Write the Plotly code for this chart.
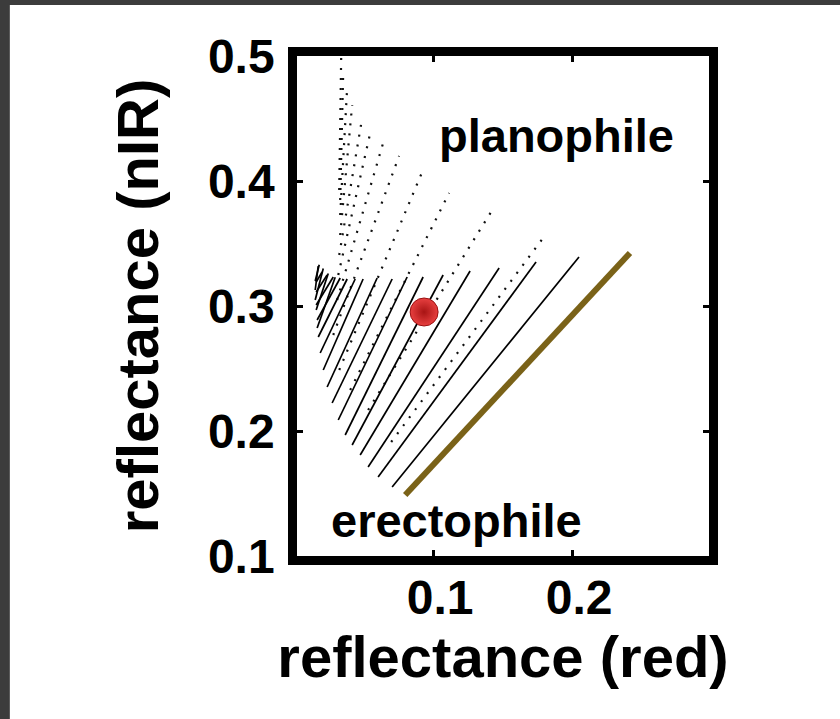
import plotly.graph_objects as go

# Canopy reflectance simulations in red / near-infrared space.
# Densely sampled iso-LAI lines (erectophile leaves): start and end points.
dense_red_start = [0.0705, 0.0604, 0.0532, 0.0475, 0.0417, 0.0367, 0.0317, 0.0273,
                   0.0237, 0.0209, 0.0187, 0.0173, 0.0165, 0.0158, 0.0158, 0.0158,
                   0.0151, 0.0151, 0.0158, 0.0165, 0.0151]
dense_nir_start = [0.1552, 0.1632, 0.1712, 0.1808, 0.1888, 0.1968, 0.2088, 0.2224,
                   0.2352, 0.2488, 0.2624, 0.2752, 0.2888, 0.3008, 0.3112, 0.3192,
                   0.3128, 0.3048, 0.2968, 0.2824, 0.3200]
dense_red_end = [0.2050, 0.1741, 0.1475, 0.1266, 0.1072, 0.0928, 0.0813, 0.0705,
                 0.0597, 0.0496, 0.0439, 0.0381, 0.0331, 0.0281, 0.0237, 0.0201,
                 0.0173, 0.0209, 0.0245, 0.0295, 0.0180]
dense_nir_end = [0.3392, 0.3352, 0.3304, 0.3280, 0.3248, 0.3232, 0.3232, 0.3216,
                 0.3224, 0.3216, 0.3216, 0.3216, 0.3224, 0.3232, 0.3248, 0.3272,
                 0.3320, 0.3300, 0.3260, 0.3230, 0.3330]

# Sparsely sampled iso-LAI lines (planophile leaves): upper and lower points.
sparse_red_top = [0.1813, 0.1417, 0.1115, 0.0921, 0.0755, 0.0640, 0.0547, 0.0489,
                  0.0417, 0.0381, 0.0353, 0.0338]
sparse_nir_top = [0.3576, 0.3752, 0.3904, 0.4072, 0.4200, 0.4304, 0.4384, 0.4504,
                  0.4608, 0.4744, 0.4888, 0.4984]
sparse_red_bottom = [0.0698, 0.0532, 0.0403, 0.0324, 0.0281, 0.0309, 0.0317, 0.0324,
                     0.0331, 0.0331, 0.0331, 0.0324]
sparse_nir_bottom = [0.1912, 0.2168, 0.2328, 0.2488, 0.2768, 0.3048, 0.3248, 0.3408,
                     0.3568, 0.3728, 0.3848, 0.3928]

# Bare soil line
soil_red = [0.0799, 0.2417]
soil_nir = [0.1488, 0.3424]

# Observed pixel
obs_red = [0.0935]
obs_nir = [0.2952]

x_ticks = [0.1, 0.2]
y_ticks = [0.1, 0.2, 0.3, 0.4, 0.5]

FONT = "Liberation Sans, Arial, sans-serif"

fig = go.Figure()

for x0, y0, x1, y1 in zip(sparse_red_bottom, sparse_nir_bottom, sparse_red_top, sparse_nir_top):
    fig.add_trace(go.Scatter(
        x=[x0, x1], y=[y0, y1], mode="lines",
        line=dict(color="#111111", width=2.2, dash="2px,8px"),
        hoverinfo="skip", showlegend=False))

for x0, y0, x1, y1 in zip(dense_red_start, dense_nir_start, dense_red_end, dense_nir_end):
    fig.add_trace(go.Scatter(
        x=[x0, x1], y=[y0, y1], mode="lines",
        line=dict(color="#000000", width=1.7),
        hoverinfo="skip", showlegend=False))

fig.add_trace(go.Scatter(
    x=soil_red, y=soil_nir, mode="lines",
    line=dict(color="#7a6218", width=6),
    hoverinfo="skip", showlegend=False))

fig.add_trace(go.Scatter(
    x=obs_red, y=obs_nir, mode="markers",
    marker=dict(size=28, color="#e84040",
                gradient=dict(type="radial", color="#a81414"),
                line=dict(color="#9a1010", width=1)),
    hoverinfo="skip", showlegend=False))

fig.add_annotation(x=0.1885, y=0.4368, text="planophile", showarrow=False,
                   font=dict(family=FONT, size=47, color="black", weight="bold"))
fig.add_annotation(x=0.1165, y=0.1288, text="erectophile", showarrow=False,
                   font=dict(family=FONT, size=47, color="black", weight="bold"))

# dark window border along the top and left edges
fig.add_shape(type="rect", xref="paper", yref="paper",
              x0=-0.73, x1=-0.697, y0=-0.35, y1=1.12,
              fillcolor="#3c3c3c", line=dict(width=0), layer="above")
fig.add_shape(type="rect", xref="paper", yref="paper",
              x0=-0.73, x1=1.35, y0=1.102, y1=1.12,
              fillcolor="#3c3c3c", line=dict(width=0), layer="above")

axis_common = dict(
    showgrid=False, zeroline=False,
    showline=True, linecolor="black", linewidth=8.5, mirror="ticks",
    ticks="inside", ticklen=6, tickwidth=2.5, tickcolor="black",
    tickfont=dict(family=FONT, size=48, color="black", weight="bold"),
)

fig.update_xaxes(
    range=[0.002, 0.2986], tickvals=x_ticks, ticktext=[f"{v:.1f}" for v in x_ticks],
    ticklabelstandoff=-8, ticklabelshift=7,
    title=dict(text="reflectance (red)", standoff=14,
               font=dict(family=FONT, size=58, color="black", weight="bold")),
    **axis_common)
fig.update_yaxes(
    range=[0.1, 0.5], tickvals=y_ticks, ticktext=[f"{v:.1f}" for v in y_ticks],
    ticklabelstandoff=4,
    title=dict(text="reflectance (nIR)", standoff=34,
               font=dict(family=FONT, size=58, color="black", weight="bold")),
    **axis_common)

fig.update_layout(
    width=840, height=719,
    margin=dict(l=297, r=131, t=56, b=163),
    paper_bgcolor="white", plot_bgcolor="white",
    showlegend=False,
)

fig.write_html("out.html")
